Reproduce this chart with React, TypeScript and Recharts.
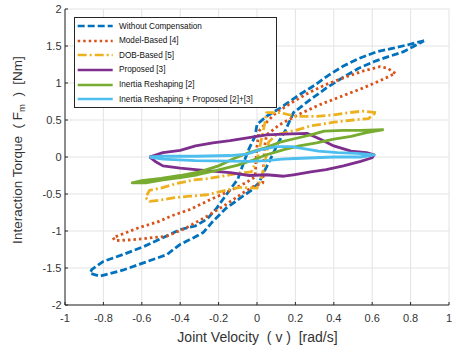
import { LineChart, Line, XAxis, YAxis, CartesianGrid, Legend, Label } from "recharts";

const FONT = "'Liberation Sans', Arial, Helvetica, sans-serif";

const xTicks = [-1, -0.8, -0.6, -0.4, -0.2, 0, 0.2, 0.4, 0.6, 0.8, 1];
const yTicks = [-2, -1.5, -1, -0.5, 0, 0.5, 1, 1.5, 2];

// closed hysteresis loops, [velocity, torque]
const withoutComp = [
  [0.87, 1.57], [0.79, 1.52], [0.71, 1.47], [0.62, 1.42], [0.53, 1.33], [0.45, 1.23],
  [0.37, 1.1], [0.3, 0.97], [0.22, 0.84], [0.12, 0.66], [0.05, 0.55], [0.0, 0.44],
  [-0.01, 0.28], [-0.04, 0.12], [-0.07, -0.08], [-0.1, -0.3], [-0.16, -0.51], [-0.21, -0.69],
  [-0.26, -0.84], [-0.32, -0.93], [-0.4, -0.98], [-0.49, -1.09], [-0.59, -1.21], [-0.7, -1.32],
  [-0.8, -1.41], [-0.86, -1.52], [-0.87, -1.57], [-0.82, -1.61], [-0.7, -1.53], [-0.58, -1.42],
  [-0.47, -1.32], [-0.4, -1.18], [-0.33, -1.09], [-0.28, -1.02], [-0.23, -0.87], [-0.16, -0.69],
  [-0.09, -0.56], [-0.03, -0.45], [0.01, -0.35], [0.035, -0.21], [0.07, -0.03], [0.11, 0.19],
  [0.15, 0.37], [0.19, 0.6], [0.28, 0.78], [0.36, 0.93], [0.45, 1.08], [0.53, 1.2],
  [0.62, 1.3], [0.7, 1.37], [0.76, 1.42], [0.82, 1.5], [0.87, 1.57],
];

const modelBased = [
  [0.72, 1.13], [0.68, 1.2], [0.64, 1.22], [0.55, 1.16], [0.45, 1.07], [0.36, 0.98],
  [0.27, 0.87], [0.19, 0.75], [0.1, 0.6], [0.05, 0.47], [0.01, 0.35], [0.0, 0.14],
  [-0.005, -0.05], [-0.01, -0.27], [-0.06, -0.35], [-0.12, -0.43], [-0.23, -0.56], [-0.35, -0.71],
  [-0.44, -0.79], [-0.52, -0.88], [-0.61, -0.95], [-0.68, -1.02], [-0.75, -1.09], [-0.74, -1.13],
  [-0.66, -1.12], [-0.58, -1.1], [-0.47, -1.07], [-0.37, -0.96], [-0.26, -0.8], [-0.16, -0.64],
  [-0.07, -0.48], [-0.02, -0.4], [0.03, -0.35], [0.035, -0.1], [0.04, 0.15], [0.05, 0.3],
  [0.12, 0.44], [0.22, 0.58], [0.33, 0.71], [0.45, 0.83], [0.55, 0.93], [0.64, 1.03], [0.72, 1.13],
];

const dobBased = [
  [0.62, 0.6], [0.55, 0.62], [0.48, 0.6], [0.4, 0.57], [0.31, 0.55], [0.2, 0.55],
  [0.12, 0.6], [0.05, 0.6], [0.04, 0.45], [0.02, 0.2], [0.0, -0.05], [-0.03, -0.2],
  [-0.1, -0.22], [-0.18, -0.26], [-0.25, -0.29], [-0.33, -0.31], [-0.42, -0.36], [-0.5, -0.42],
  [-0.56, -0.45], [-0.58, -0.55], [-0.56, -0.6], [-0.5, -0.58], [-0.43, -0.55], [-0.35, -0.53],
  [-0.26, -0.51], [-0.18, -0.46], [-0.09, -0.41], [0.0, -0.42], [0.02, -0.3], [0.04, -0.1],
  [0.06, 0.2], [0.1, 0.3], [0.2, 0.36], [0.28, 0.42], [0.4, 0.47], [0.5, 0.5], [0.58, 0.52], [0.62, 0.6],
];

const proposed = [
  [-0.56, 0.0], [-0.49, 0.06], [-0.4, 0.09], [-0.32, 0.15], [-0.23, 0.19], [-0.14, 0.22],
  [-0.05, 0.26], [0.05, 0.3], [0.14, 0.31], [0.26, 0.32], [0.33, 0.24], [0.4, 0.15],
  [0.49, 0.08], [0.57, 0.06], [0.61, 0.03], [0.6, -0.01], [0.54, -0.06], [0.45, -0.12],
  [0.36, -0.17], [0.28, -0.2], [0.19, -0.24], [0.14, -0.26], [0.05, -0.24], [-0.04, -0.25],
  [-0.14, -0.21], [-0.23, -0.19], [-0.32, -0.17], [-0.4, -0.15], [-0.49, -0.12], [-0.53, -0.06], [-0.56, 0.0],
];

const inertiaReshaping = [
  [0.66, 0.37], [0.54, 0.36], [0.45, 0.36], [0.35, 0.35], [0.28, 0.3], [0.2, 0.25],
  [0.12, 0.2], [0.05, 0.13], [-0.04, 0.06], [-0.12, -0.02], [-0.2, -0.12], [-0.3, -0.2],
  [-0.4, -0.25], [-0.5, -0.29], [-0.6, -0.32], [-0.65, -0.35], [-0.58, -0.35], [-0.49, -0.31],
  [-0.4, -0.28], [-0.31, -0.24], [-0.21, -0.18], [-0.1, -0.11], [-0.02, -0.04], [0.05, 0.03],
  [0.14, 0.1], [0.22, 0.15], [0.31, 0.19], [0.4, 0.24], [0.49, 0.28], [0.57, 0.33], [0.66, 0.37],
];

const reshapingProposed = [
  [-0.56, 0.0], [-0.49, 0.01], [-0.32, 0.01], [-0.14, 0.02], [-0.05, 0.04], [0.02, 0.1],
  [0.1, 0.14], [0.18, 0.14], [0.25, 0.11], [0.32, 0.08], [0.42, 0.06], [0.52, 0.05],
  [0.61, 0.03], [0.54, 0.0], [0.4, 0.0], [0.3, -0.01], [0.2, -0.02], [0.13, -0.03],
  [0.05, -0.05], [-0.04, -0.06], [-0.14, -0.055], [-0.32, -0.05], [-0.49, -0.03], [-0.56, 0.0],
];

const toPts = (a: number[][]) => a.map(([x, y]) => ({ x, y }));

const series = [
  { name: "Without Compensation", color: "#0072BD", dash: "7 3", data: toPts(withoutComp) },
  { name: "Model-Based [4]", color: "#D95319", dash: "2.5 3", data: toPts(modelBased) },
  { name: "DOB-Based [5]", color: "#EDB120", dash: "9 3 2 3", data: toPts(dobBased) },
  { name: "Proposed [3]", color: "#7E2F8E", dash: undefined, data: toPts(proposed) },
  { name: "Inertia Reshaping [2]", color: "#77AC30", dash: undefined, data: toPts(inertiaReshaping) },
  { name: "Inertia Reshaping + Proposed [2]+[3]", color: "#4DBEEE", dash: undefined, data: toPts(reshapingProposed) },
];

function LegendBox() {
  return (
    <div
      style={{
        width: 203,
        height: 91,
        boxSizing: "border-box",
        border: "1px solid #262626",
        background: "#fff",
        paddingTop: 0.7,
        fontFamily: FONT,
        fontSize: 8.2,
        color: "#111",
      }}
    >
      {series.map((s) => (
        <div key={s.name} style={{ display: "flex", alignItems: "center", height: 14.65 }}>
          <svg width={44} height={6} style={{ flex: "none" }}>
            <line x1={2.7} x2={37.7} y1={3} y2={3} stroke={s.color} strokeWidth={2.5} strokeDasharray={s.dash} />
          </svg>
          <span style={{ whiteSpace: "nowrap" }}>{s.name}</span>
        </div>
      ))}
    </div>
  );
}

export default function App() {
  return (
    <div style={{ position: "absolute", left: 0, top: 0, width: 453, height: 347, background: "#fff" }}>
      <LineChart width={453} height={347} margin={{ top: 9, right: 4, left: 25, bottom: 12 }}>
        <CartesianGrid stroke="#e3e3e3" strokeWidth={1} />
        <XAxis
          type="number"
          dataKey="x"
          domain={[-1, 1]}
          ticks={xTicks}
          interval={0}
          height={30}
          stroke="#262626"
          tickSize={-3}
          tickMargin={12}
          tick={{ fontSize: 11, fill: "#333", fontFamily: FONT }}
          allowDataOverflow
        >
          <Label
            content={() => (
              <text
                x={257.5}
                y={341.5}
                textAnchor="middle"
                fontSize={14}
                fill="#333"
                fontFamily={FONT}
                style={{ whiteSpace: "pre" }}
              >
                {"Joint Velocity  ( v )  [rad/s]"}
              </text>
            )}
          />
        </XAxis>
        <YAxis
          type="number"
          dataKey="y"
          domain={[-2, 2]}
          ticks={yTicks}
          interval={0}
          width={40}
          stroke="#262626"
          tickSize={-3}
          tickMargin={6.5}
          tick={{ fontSize: 11, fill: "#333", fontFamily: FONT }}
          allowDataOverflow
        >
          <Label
            content={() => (
              <text
                x={21.5}
                y={150}
                transform="rotate(-90, 21.5, 150)"
                textAnchor="middle"
                fontSize={13.5}
                fill="#333"
                fontFamily={FONT}
                style={{ whiteSpace: "pre" }}
              >
                {"Interaction Torque  ( F"}
                <tspan dy={3} fontSize={9.5}>m</tspan>
                <tspan dy={-3}>{"  )  [Nm]"}</tspan>
              </text>
            )}
          />
        </YAxis>
        <Legend
          layout="vertical"
          align="center"
          verticalAlign="middle"
          content={() => <LegendBox />}
          wrapperStyle={{ left: 74, top: 17, width: 203, height: 91 }}
        />
        {series.map((s) => (
          <Line
            key={s.name}
            data={s.data}
            dataKey="y"
            name={s.name}
            type="linear"
            stroke={s.color}
            strokeWidth={2.8}
            strokeDasharray={s.dash}
            strokeLinejoin="round"
            dot={false}
            activeDot={false}
            isAnimationActive={false}
          />
        ))}
      </LineChart>
    </div>
  );
}
